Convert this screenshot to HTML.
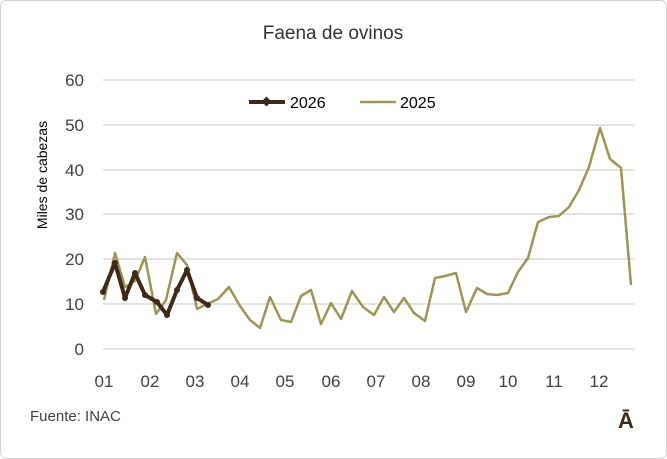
<!DOCTYPE html>
<html><head><meta charset="utf-8"><style>
body{margin:0;background:#fff}
svg{display:block;font-family:"Liberation Sans",sans-serif}
</style></head><body>
<svg width="667" height="459" viewBox="0 0 667 459">
<rect x="0.5" y="0.5" width="666" height="458" rx="6" fill="#fff" stroke="#d0d0d0"/>
<text x="333" y="39" font-size="19" text-anchor="middle" fill="#333">Faena de ovinos</text>
<g stroke="#d9d9d9" stroke-width="1.5">
<line x1="103" y1="80" x2="634" y2="80"/><line x1="103" y1="125" x2="634" y2="125"/>
<line x1="103" y1="170" x2="634" y2="170"/><line x1="103" y1="214" x2="634" y2="214"/>
<line x1="103" y1="259" x2="634" y2="259"/><line x1="103" y1="304" x2="634" y2="304"/>
<line x1="103" y1="349" x2="634" y2="349"/>
</g>
<g font-size="17" fill="#404040" text-anchor="end">
<text x="84" y="86">60</text><text x="84" y="131">50</text><text x="84" y="176">40</text>
<text x="84" y="220">30</text><text x="84" y="265">20</text><text x="84" y="310">10</text>
<text x="84" y="355">0</text>
</g>
<g font-size="17" fill="#404040" text-anchor="middle">
<text x="104" y="387">01</text><text x="150" y="387">02</text><text x="195" y="387">03</text>
<text x="240" y="387">04</text><text x="285" y="387">05</text><text x="331" y="387">06</text>
<text x="376" y="387">07</text><text x="421" y="387">08</text><text x="466" y="387">09</text>
<text x="508" y="387">10</text><text x="554" y="387">11</text><text x="599" y="387">12</text>
</g>
<text transform="translate(47,175) rotate(-90)" font-size="14" text-anchor="middle" fill="#000">Miles de cabezas</text>
<polyline fill="none" stroke="#9d9550" stroke-width="2.5" stroke-linejoin="round" points="104,300 115,253 125,287 135,281 145,257 156,314 166,300 177,253 187,265 197,309 207,304 218,299 229,287 240,306 250,320 260,328 270,297 281,320 291,322 301,296 311,290 321,324 331,303 341,319 352,291 363,307 374,315 384,297 394,312 404,298 414,313 425,321 435,278 445,276 456,273 466,312 477,288 487,294 497,295 508,293 518,272 528,258 538,222 549,217 559,216 569,207 579,190 589,167 600,128 610,159 621,168 631,285"/>
<polyline fill="none" stroke="#3f2a17" stroke-width="4" stroke-linejoin="round" points="103,292 115,263 125,298 135,273 145,295 157,302 167,315 177,290 187,270 197,298 208,305"/>
<g fill="#3f2a17">
<circle cx="103" cy="292" r="3"/><circle cx="115" cy="263" r="3"/><circle cx="125" cy="298" r="3"/><circle cx="135" cy="273" r="3"/><circle cx="145" cy="295" r="3"/><circle cx="157" cy="302" r="3"/><circle cx="167" cy="315" r="3"/><circle cx="177" cy="290" r="3"/><circle cx="187" cy="270" r="3"/><circle cx="197" cy="298" r="3"/><circle cx="208" cy="305" r="3"/>
</g>
<line x1="249" y1="102" x2="285" y2="102" stroke="#3f2a17" stroke-width="4"/>
<rect x="263" y="98" width="7" height="7" fill="#3f2a17" transform="rotate(45 266.5 101.5)"/>
<text x="290" y="108" font-size="16" fill="#000">2026</text>
<line x1="360" y1="102" x2="396" y2="102" stroke="#9d9550" stroke-width="2.5"/>
<text x="400" y="108" font-size="16" fill="#000">2025</text>
<text x="30" y="421" font-size="15" fill="#404040">Fuente: INAC</text>
<text x="626" y="428" font-size="22" font-weight="bold" fill="#3f2a17" text-anchor="middle">Ā</text>
</svg>
</body></html>
